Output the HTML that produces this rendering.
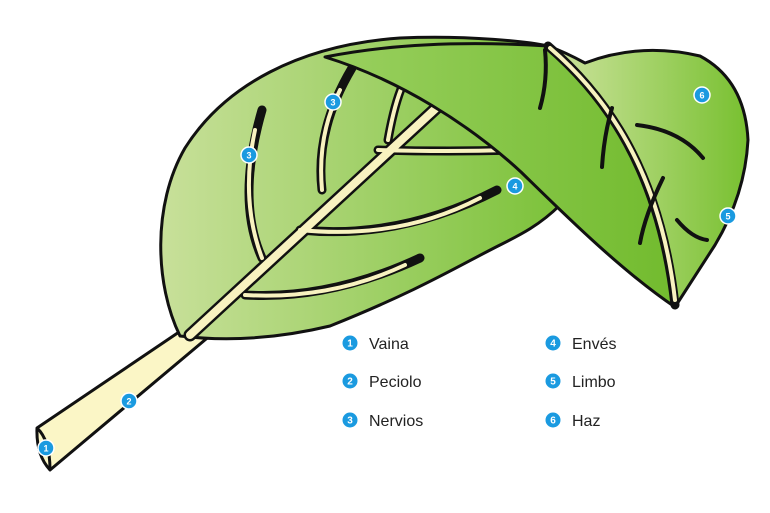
<!DOCTYPE html>
<html><head><meta charset="utf-8"><style>
html,body{margin:0;padding:0;background:#fff;}
svg{display:block;}
text{font-family:"Liberation Sans",sans-serif;}
</style></head><body>
<svg width="770" height="513" viewBox="0 0 770 513" xmlns="http://www.w3.org/2000/svg">
<defs>
<linearGradient id="g1" x1="0" x2="1" y1="0" y2="0">
<stop offset="0" stop-color="#c8e09a"/><stop offset="1" stop-color="#7cc23a"/></linearGradient>
<linearGradient id="g2" x1="0" x2="1" y1="0" y2="0">
<stop offset="0" stop-color="#9ad060"/><stop offset="1" stop-color="#72bb2e"/></linearGradient>
<linearGradient id="g3" x1="0" x2="1" y1="0" y2="0">
<stop offset="0" stop-color="#cfe4a0"/><stop offset="1" stop-color="#78c030"/></linearGradient>
</defs>
<!-- petiole -->
<path d="M37,428 L185,328 L212,334 L50,470 Q36,455 37,428 Z" fill="#fbf6c6" stroke="#111" stroke-width="3" stroke-linejoin="round"/>
<path d="M37,428 Q50,440 50,470" fill="none" stroke="#111" stroke-width="3"/>
<!-- main leaf -->
<path d="M180,336 C155,285 152,205 185,148 C225,85 300,45 400,38 C470,35 530,42 548,46 L560,205 C540,225 520,235 500,245 C460,265 420,290 330,326 C280,338 230,342 180,336 Z" fill="url(#g1)" stroke="#111" stroke-width="3" stroke-linejoin="round"/>
<!-- main veins -->
<g fill="none" stroke-linecap="round">
<path d="M190,335 L445,100" stroke="#111" stroke-width="13"/>
<path d="M262,258 Q236,200 262,110" stroke="#111" stroke-width="9"/>
<path d="M322,190 Q315,130 352,68" stroke="#111" stroke-width="9"/>
<path d="M388,140 Q395,100 405,80" stroke="#111" stroke-width="9"/>
<path d="M378,150 Q450,152 520,150" stroke="#111" stroke-width="9"/>
<path d="M300,230 Q400,240 497,190" stroke="#111" stroke-width="9"/>
<path d="M245,295 Q330,300 420,258" stroke="#111" stroke-width="9"/>
<path d="M190,335 L445,100" stroke="#f8f2c0" stroke-width="8"/>
<path d="M262,258 Q240,200 255,130" stroke="#f8f2c0" stroke-width="4"/>
<path d="M322,190 Q317,135 340,90" stroke="#f8f2c0" stroke-width="4"/>
<path d="M388,140 Q395,100 405,80" stroke="#f8f2c0" stroke-width="4"/>
<path d="M378,150 Q450,152 510,150" stroke="#f8f2c0" stroke-width="4"/>
<path d="M300,230 Q400,240 480,198" stroke="#f8f2c0" stroke-width="4"/>
<path d="M245,295 Q330,300 405,265" stroke="#f8f2c0" stroke-width="4"/>
</g>
<!-- flap -->
<path d="M325,57 Q420,38 548,46 C605,95 660,170 675,307 C620,270 560,210 521,172 C470,125 400,80 325,57 Z" fill="url(#g2)" stroke="#111" stroke-width="3" stroke-linejoin="round"/>
<!-- right lobe -->
<path d="M548,46 C605,95 660,170 675,307 L715,245 Q745,195 748,140 Q745,80 700,56 Q640,42 585,63 Q565,52 548,46 Z" fill="url(#g3)" stroke="#111" stroke-width="3" stroke-linejoin="round"/>
<g fill="none" stroke-linecap="round">
<path d="M548,46 C605,95 660,170 675,305" stroke="#111" stroke-width="9"/>
<path d="M550,48 C605,95 660,170 675,300" stroke="#f8f2c0" stroke-width="4"/>
<path d="M637,125 Q680,130 703,158" stroke="#111" stroke-width="4"/>
<path d="M663,178 Q645,215 640,243" stroke="#111" stroke-width="4"/>
<path d="M677,220 Q692,238 707,240" stroke="#111" stroke-width="4"/>
<path d="M612,108 Q604,135 602,167" stroke="#111" stroke-width="4"/>
<path d="M545,50 Q548,80 540,108" stroke="#111" stroke-width="4"/>
</g>
<!-- markers -->
<g font-size="9" font-weight="bold" fill="#fff" text-anchor="middle">
<g><circle cx="46" cy="448" r="8" fill="#1a9ae0" stroke="#fff" stroke-width="1.5"/><text x="46" y="451.5">1</text></g>
<g><circle cx="129" cy="401" r="8" fill="#1a9ae0" stroke="#fff" stroke-width="1.5"/><text x="129" y="404.5">2</text></g>
<g><circle cx="333" cy="102" r="8" fill="#1a9ae0" stroke="#fff" stroke-width="1.5"/><text x="333" y="105.5">3</text></g>
<g><circle cx="249" cy="155" r="8" fill="#1a9ae0" stroke="#fff" stroke-width="1.5"/><text x="249" y="158.5">3</text></g>
<g><circle cx="515" cy="186" r="8" fill="#1a9ae0" stroke="#fff" stroke-width="1.5"/><text x="515" y="189.5">4</text></g>
<g><circle cx="728" cy="216" r="8" fill="#1a9ae0" stroke="#fff" stroke-width="1.5"/><text x="728" y="219.5">5</text></g>
<g><circle cx="702" cy="95" r="8" fill="#1a9ae0" stroke="#fff" stroke-width="1.5"/><text x="702" y="98.5">6</text></g>
</g>
<!-- legend -->
<g font-size="10" font-weight="bold" fill="#fff" text-anchor="middle">
<circle cx="350" cy="343" r="7.5" fill="#1a9ae0"/><text x="350" y="346.5">1</text>
<circle cx="350" cy="381" r="7.5" fill="#1a9ae0"/><text x="350" y="384.5">2</text>
<circle cx="350" cy="420" r="7.5" fill="#1a9ae0"/><text x="350" y="423.5">3</text>
<circle cx="553" cy="343" r="7.5" fill="#1a9ae0"/><text x="553" y="346.5">4</text>
<circle cx="553" cy="381" r="7.5" fill="#1a9ae0"/><text x="553" y="384.5">5</text>
<circle cx="553" cy="420" r="7.5" fill="#1a9ae0"/><text x="553" y="423.5">6</text>
</g>
<g font-size="16" fill="#222">
<text x="369" y="349">Vaina</text>
<text x="369" y="387">Peciolo</text>
<text x="369" y="426">Nervios</text>
<text x="572" y="349">Envés</text>
<text x="572" y="387">Limbo</text>
<text x="572" y="426">Haz</text>
</g>
</svg>
</body></html>
